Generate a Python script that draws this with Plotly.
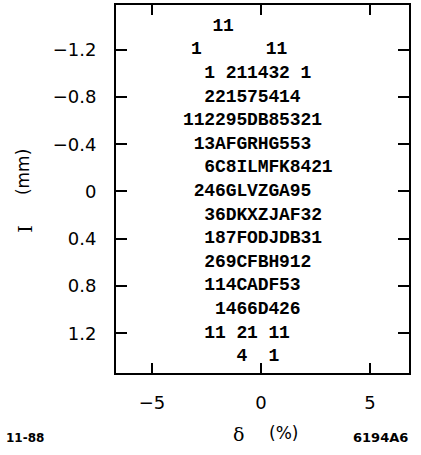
import plotly.graph_objects as go

# ---- data ----
# position I (mm) of each printed row
I_ROWS = [-1.4, -1.2, -1.0, -0.8, -0.6, -0.4, -0.2, 0.0, 0.2, 0.4, 0.6, 0.8, 1.0, 1.2, 1.4]
# density code characters of each row (1-9, then A-Z; blank = empty cell)
ROW_TEXT = [
    "11",
    "1      11",
    "1 211432 1",
    "221575414",
    "112295DB85321",
    "13AFGRHG553",
    "6C8ILMFK8421",
    "246GLVZGA95",
    "36DKXZJAF32",
    "187FODJDB31",
    "269CFBH912",
    "114CADF53",
    "1466D426",
    "11 21 11",
    "4  1",
]
# delta (%) of the first cell of each row
ROW_START_DELTA = [-1.98, -2.96, -2.35, -2.35, -3.33, -2.84, -2.35, -2.84,
                   -2.35, -2.35, -2.35, -2.35, -1.86, -2.35, -0.88]
CELL_WIDTH = 0.49  # delta (%) per character cell

X_TICKS = [-5, 0, 5]
X_TICKTEXT = ["\u22125", "0", "5"]
Y_TICKS = [-1.2, -0.8, -0.4, 0.0, 0.4, 0.8, 1.2]
Y_TICKTEXT = ["\u22121.2", "\u22120.8", "\u22120.4", "0", "0.4", "0.8", "1.2"]

# ---- build the character cells ----
xs, ys, chars = [], [], []
for I, txt, x0 in zip(I_ROWS, ROW_TEXT, ROW_START_DELTA):
    for k, ch in enumerate(txt):
        if ch != " ":
            xs.append(x0 + k * CELL_WIDTH)
            ys.append(I)
            chars.append(ch)

fig = go.Figure()
fig.add_trace(go.Scatter(
    x=xs, y=ys, text=chars, mode="text",
    textposition="middle center",
    textfont=dict(family="Liberation Mono", size=18, color="black", weight="bold"),
    hoverinfo="skip", showlegend=False,
))

W, H = 421, 455
ML, MR, MT, MB = 116, 12, 3, 82
PW, PH = W - ML - MR, H - MT - MB


def px(x):
    return (x - ML) / PW


def py(y):
    return (H - MB - y) / PH


axis_common = dict(
    showline=True, linewidth=2, linecolor="black", mirror="ticks",
    ticks="inside", tickwidth=1.5, tickcolor="black",
    showgrid=False, zeroline=False,
    tickfont=dict(family="DejaVu Sans", size=18, color="black"),
)


def label(text, x, y, family, size, angle=0):
    return dict(text=text, x=px(x), y=py(y), xref="paper", yref="paper",
                textangle=angle, showarrow=False, xanchor="center", yanchor="middle",
                font=dict(family=family, size=size, color="black"))


fig.update_layout(
    width=W, height=H,
    margin=dict(l=ML, r=MR, t=MT, b=MB),
    paper_bgcolor="white", plot_bgcolor="white",
    xaxis=dict(range=[-6.65, 6.79], tickvals=X_TICKS, ticktext=X_TICKTEXT,
               ticklen=10, ticklabelstandoff=12, **axis_common),
    yaxis=dict(range=[1.537, -1.579], tickvals=Y_TICKS, ticktext=Y_TICKTEXT,
               ticklen=11, ticklabelstandoff=14, **axis_common),
    annotations=[
        label("I", 25, 228, "DejaVu Serif", 19, -90),
        label("(mm)", 23, 171, "DejaVu Sans", 17, -90),
        label("\u03b4", 238, 434, "DejaVu Serif", 19),
        label("(%)", 283, 433, "DejaVu Sans", 17),
        label("<b>11-88</b>", 25, 438, "DejaVu Sans", 12),
        label("<b>6194A6</b>", 380, 438, "DejaVu Sans", 13),
    ],
)

fig.write_html("out.html")
